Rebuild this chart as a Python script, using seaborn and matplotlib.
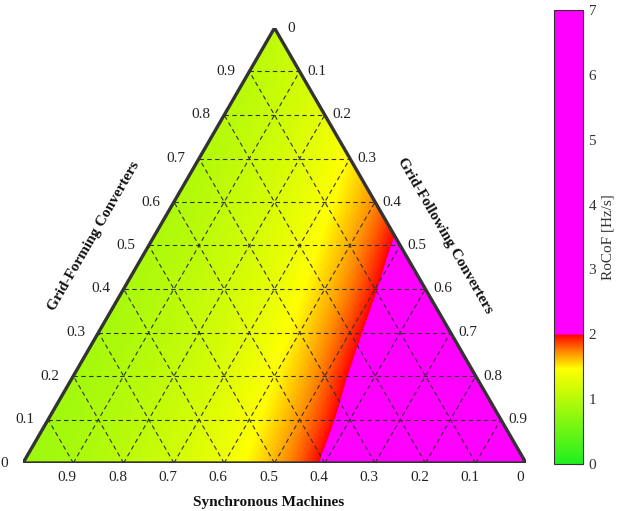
import numpy as np
import matplotlib
matplotlib.use('Agg')
import matplotlib.pyplot as plt
import matplotlib.tri as mtri
from matplotlib.colors import LinearSegmentedColormap, Normalize
from matplotlib.cm import ScalarMappable
import seaborn as sns

# grid-forming share of each row, grid-following share steps by 0.1 inside a row
gfm_levels = [0.0, 0.1, 0.2, 0.3, 0.4, 0.5, 0.6, 0.7, 0.8, 0.9, 1.0]
gfl_step = 0.1
rocof_rows = [
    [0.82, 0.91, 1.03, 1.17, 1.37, 1.64, 2.05, 2.73, 4.10, 7.0, 7.0],
    [0.84, 0.93, 1.05, 1.21, 1.42, 1.71, 2.16, 2.94, 4.59, 7.0],
    [0.86, 0.96, 1.08, 1.25, 1.47, 1.79, 2.29, 3.18, 5.20],
    [0.88, 0.98, 1.11, 1.29, 1.53, 1.88, 2.44, 3.47],
    [0.90, 1.01, 1.15, 1.33, 1.59, 1.97, 2.60],
    [0.92, 1.03, 1.18, 1.38, 1.66, 2.08],
    [0.94, 1.06, 1.22, 1.43, 1.73],
    [0.96, 1.09, 1.26, 1.49],
    [0.99, 1.12, 1.30],
    [1.01, 1.16],
    [1.04],
]
sm_ticks = ['0.9', '0.8', '0.7', '0.6', '0.5', '0.4', '0.3', '0.2', '0.1', '0']
gfm_ticks = ['0', '0.1', '0.2', '0.3', '0.4', '0.5', '0.6', '0.7', '0.8', '0.9']
gfl_ticks = ['0', '0.1', '0.2', '0.3', '0.4', '0.5', '0.6', '0.7', '0.8', '0.9']
cbar_ticks = [0, 1, 2, 3, 4, 5, 6, 7]

sns.set_theme(style='white')
plt.rcParams['font.family'] = ['Liberation Serif', 'DejaVu Serif']

H = np.sqrt(3) / 2

# ternary -> cartesian (bottom-left = synchronous, bottom-right = GFL, top = GFM)
xs, ys, zs = [], [], []
for g, row in zip(gfm_levels, rocof_rows):
    for j, val in enumerate(row):
        f = j * gfl_step
        xs.append(f + g / 2)
        ys.append(g * H)
        zs.append(val)
tri = mtri.Triangulation(np.array(xs), np.array(ys))
refiner = mtri.UniformTriRefiner(tri)
tri_f, z_f = refiner.refine_field(np.array(zs), subdiv=4)
z_f = np.clip(z_f, 0, 7)

cmap = LinearSegmentedColormap.from_list('rocof', [
    (0.0, (0.12, 0.94, 0.12)),
    (1.47 / 7, (1.0, 1.0, 0.0)),
    (1.75 / 7, (1.0, 0.5, 0.0)),
    (1.995 / 7, (1.0, 0.0, 0.0)),
    (2.0 / 7, (1.0, 0.0, 1.0)),
    (1.0, (1.0, 0.0, 1.0)),
], N=1024)
norm = Normalize(0, 7)

fig = plt.figure(figsize=(6.22, 5.11), dpi=100)
ax = fig.add_axes([23 / 622, 48 / 511, 503 / 622, 435 / 511])
levels = np.r_[np.linspace(0, 2, 401), 7.01]
ax.tricontourf(tri_f, z_f, levels=levels, cmap=cmap, norm=norm, antialiased=False)

# dashed ternary grid
for k in range(1, 10):
    v = k / 10
    kw = dict(color='#333333', lw=0.8, ls=(0, (4, 3)), zorder=3)
    ax.plot([v / 2, 1 - v / 2], [v * H, v * H], **kw)
    ax.plot([v, 0.5 + v / 2], [0, (1 - v) * H], **kw)
    ax.plot([1 - v, (1 - v) / 2], [0, (1 - v) * H], **kw)

# triangle outline
sns.lineplot(x=[0, 1, 0.5, 0], y=[0, 0, H, 0], sort=False, estimator=None,
             color='#333333', lw=2.4, ax=ax, zorder=4)

px = 1 / 503
fs = 11
for k, lab in enumerate(gfm_ticks):
    g = k / 10
    lx = max(g / 2 - 23 * px, -19 * px)
    ax.text(lx, g * H, lab, ha='center', va='center', fontsize=fs, color='#222222')
for k, lab in enumerate(gfl_ticks):
    f = k / 10
    ax.text(0.5 + f / 2 + 17 * px, (1 - f) * H, lab, ha='center', va='center', fontsize=fs, color='#222222')
for k, lab in enumerate(sm_ticks):
    f = (k + 1) / 10
    ax.text(f - 6 * px, -15 * px, lab, ha='center', va='center', fontsize=fs, color='#222222')

ax.text(0.489, -0.0795, 'Synchronous Machines', ha='center', va='center',
        fontsize=fs, fontweight='bold', color='#111111')
ax.text(0.141, 0.451, 'Grid-Forming Converters', ha='center', va='center',
        rotation=60, fontsize=fs, fontweight='bold', color='#111111')
ax.text(0.839, 0.453, 'Grid-Following Converters', ha='center', va='center',
        rotation=-60, fontsize=fs, fontweight='bold', color='#111111')

ax.set_xlim(0, 1)
ax.set_ylim(0, H)
ax.axis('off')

cax = fig.add_axes([554 / 622, 47 / 511, 29 / 622, 454 / 511])
cb = fig.colorbar(ScalarMappable(norm=norm, cmap=cmap), cax=cax, ticks=cbar_ticks)
cb.outline.set_edgecolor('#333333')
cb.outline.set_linewidth(0.8)
cax.tick_params(direction='in', length=4, width=0.8, color='#555555',
                labelsize=fs, labelcolor='#333333', pad=4)
cb.set_label('RoCoF [Hz/s]', fontsize=fs, color='#333333', labelpad=4)

fig.savefig('out.png', dpi=100)
